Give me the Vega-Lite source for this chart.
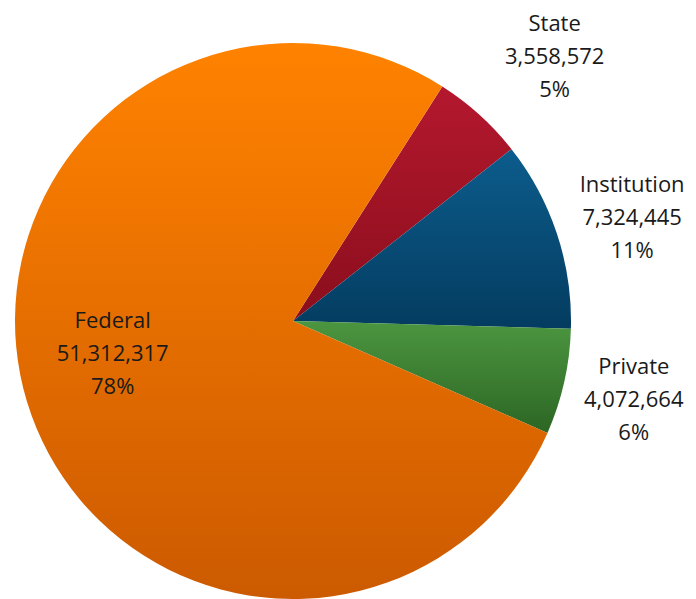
{
  "$schema": "https://vega.github.io/schema/vega-lite/v6.json",
  "autosize": "none",
  "width": 586,
  "height": 556,
  "padding": {"left": 0, "right": 110, "top": 43, "bottom": 0},
  "background": "white",
  "view": {"stroke": null},
  "data": {
    "values": [
      {"cat": "State", "value": 3558572, "pct": "5%", "ord": 1},
      {"cat": "Institution", "value": 7324445, "pct": "11%", "ord": 2},
      {"cat": "Private", "value": 4072664, "pct": "6%", "ord": 3},
      {"cat": "Federal", "value": 51312317, "pct": "78%", "ord": 4}
    ]
  },
  "transform": [
    {"stack": "value", "groupby": [], "sort": [{"field": "ord", "order": "ascending"}], "as": ["v0", "v1"]},
    {"calculate": "(datum.v0 + datum.v1) / 2", "as": "mid"},
    {"calculate": "datum.cat + '\\n' + format(datum.value, ',') + '\\n' + datum.pct", "as": "label"}
  ],
  "layer": [
    {
      "mark": {"type": "arc", "stroke": null},
      "encoding": {
        "theta": {"field": "v0", "type": "quantitative", "scale": {"domain": [0, 66267998], "range": [0.567, 6.850]}},
        "theta2": {"field": "v1"},
        "fill": {
          "condition": [
            {"test": "datum.cat === 'State'", "value": {"gradient": "linear", "x1": 0, "y1": 0, "x2": 0, "y2": 1, "stops": [{"offset": 0, "color": "#b4182e"}, {"offset": 1, "color": "#8a0e1c"}]}},
            {"test": "datum.cat === 'Institution'", "value": {"gradient": "linear", "x1": 0, "y1": 0, "x2": 0, "y2": 1, "stops": [{"offset": 0, "color": "#0c5c8c"}, {"offset": 1, "color": "#043c60"}]}},
            {"test": "datum.cat === 'Private'", "value": {"gradient": "linear", "x1": 0, "y1": 0, "x2": 0, "y2": 1, "stops": [{"offset": 0, "color": "#4c9640"}, {"offset": 1, "color": "#2c6624"}]}}
          ],
          "value": {"gradient": "linear", "x1": 0, "y1": 0, "x2": 0, "y2": 1, "stops": [{"offset": 0, "color": "#ff8200"}, {"offset": 1, "color": "#cc5a00"}]}
        }
      }
    },
    {
      "transform": [{"filter": "datum.cat === 'State'"}],
      "mark": {"type": "text", "lineBreak": "\n", "font": "Open Sans", "fontSize": 22, "lineHeight": 33, "color": "#1a1a1a", "align": "center", "baseline": "middle", "radius": 372, "dx": 12, "dy": -21},
      "encoding": {
        "theta": {"field": "mid", "type": "quantitative"},
        "text": {"field": "label", "type": "nominal"}
      }
    },
    {
      "transform": [{"filter": "datum.cat === 'Institution'"}],
      "mark": {"type": "text", "lineBreak": "\n", "font": "Open Sans", "fontSize": 22, "lineHeight": 33, "color": "#1a1a1a", "align": "center", "baseline": "middle", "radius": 354, "dx": 3, "dy": -25},
      "encoding": {
        "theta": {"field": "mid", "type": "quantitative"},
        "text": {"field": "label", "type": "nominal"}
      }
    },
    {
      "transform": [{"filter": "datum.cat === 'Private'"}],
      "mark": {"type": "text", "lineBreak": "\n", "font": "Open Sans", "fontSize": 22, "lineHeight": 33, "color": "#1a1a1a", "align": "center", "baseline": "middle", "radius": 339, "dx": 10, "dy": -28},
      "encoding": {
        "theta": {"field": "mid", "type": "quantitative"},
        "text": {"field": "label", "type": "nominal"}
      }
    },
    {
      "transform": [{"filter": "datum.cat === 'Federal'"}],
      "mark": {"type": "text", "lineBreak": "\n", "font": "Open Sans", "fontSize": 22, "lineHeight": 33, "color": "#1a1a1a", "align": "center", "baseline": "middle", "radius": 178, "dx": -10, "dy": -52},
      "encoding": {
        "theta": {"field": "mid", "type": "quantitative"},
        "text": {"field": "label", "type": "nominal"}
      }
    }
  ]
}
